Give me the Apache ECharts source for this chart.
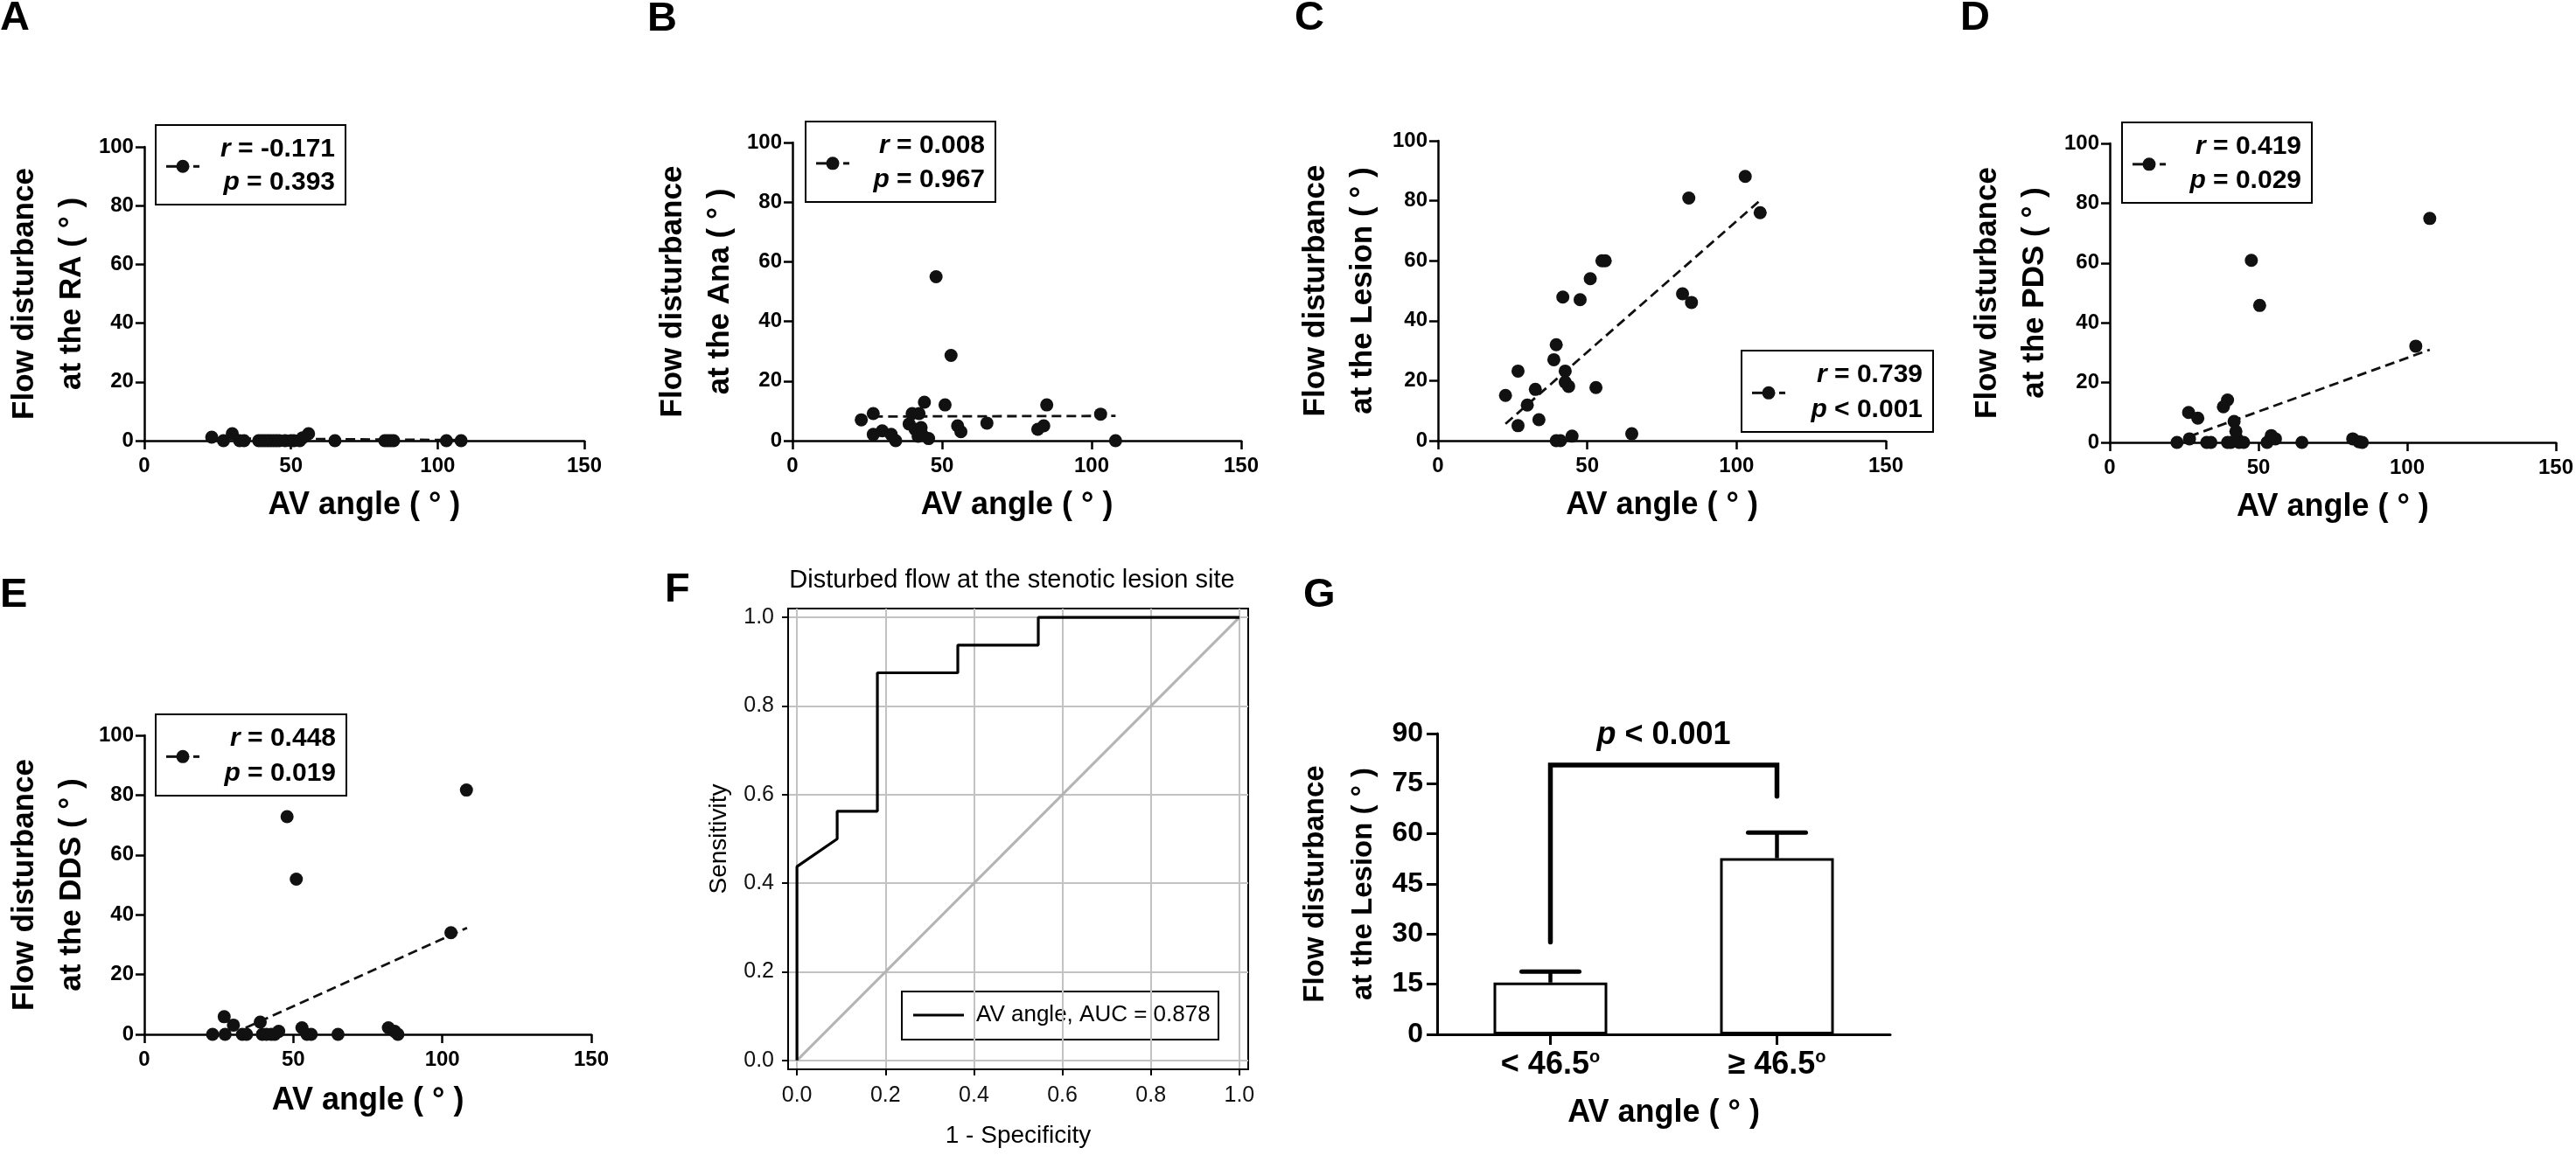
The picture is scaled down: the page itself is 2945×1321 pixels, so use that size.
<!DOCTYPE html>
<html><head><meta charset="utf-8">
<script src="https://cdn.jsdelivr.net/npm/echarts@6/dist/echarts.min.js"></script>
<style>html,body{margin:0;padding:0;background:#fff}#c{width:2945px;height:1321px}</style>
</head><body><div id="c"></div>
<script>
const FONT = '"Liberation Sans", Arial, Helvetica, sans-serif';

// ---- data ----
const ptsA = [[23,1.2],[27,0],[30,2.4],[32.5,0],[34,0],[39,0],[40,0],[41,0],[42,0],[43,0],[44,0],[45,0],[46,0],[48,0],[50,0],[51,0],[53,0],[54,1],[56,2.4],[65,0],[82,0],[83,0],[84,0],[85,0],[103,0],[108,0]];
const regA = [[23,0.8],[108,0.2]];
const ptsB = [[23,7],[27,9.1],[27,2.1],[30,3.3],[33,2.1],[34.5,0],[39,5.6],[40,9.1],[41,3.8],[42,1.5],[42.3,9.1],[43,4.4],[43.3,2.1],[44.1,12.9],[45.5,0.7],[48,55],[51,12],[53,28.6],[55.2,5],[56.3,3],[65,5.9],[82,3.8],[84,5],[85,12],[103,8.9],[108,0]];
const regB = [[27,8.1],[108,8.3]];
const ptsC = [[22.6,15.1],[26.8,23.2],[26.8,5],[29.9,11.9],[32.6,17.1],[33.8,7],[38.8,27],[39.6,32],[39.6,0],[41,0],[41.8,47.9],[42.6,23.2],[42.6,19.5],[43.75,18.1],[44.9,1.5],[47.6,47],[51,54],[52.9,17.7],[54.9,60],[56,60],[64.9,2.3],[81.9,49],[84,80.9],[84.9,46.1],[102.9,88.1],[107.9,76]];
const regC = [[22.6,5.6],[108.1,80.3]];
const ptsD = [[22.6,0],[26.5,10],[26.8,1.2],[29.6,8.1],[32.6,0],[34,0],[38.2,11.9],[39.6,14.2],[39.6,0],[40.7,0],[41.8,7],[42.4,3.7],[42.8,1.2],[43.5,0],[45,0],[47.6,60.9],[50.4,45.8],[52.9,0],[54.3,2.3],[55.7,1.2],[64.6,0],[81.7,1.2],[83.75,0.2],[84.9,0],[102.9,32.2],[107.6,74.9]];
const regD = [[26.8,2],[107.6,31]];
const ptsE = [[22.9,0],[26.8,5.9],[27.1,0],[29.9,3.1],[32.9,0],[34.3,0],[38.9,4.1],[39.6,0],[41,0],[42.6,0],[43.75,0],[45.1,1],[47.9,72.8],[51,51.9],[52.9,2.2],[54.6,0],[56,0],[65,0],[81.9,2.2],[84,1],[85.1,0],[102.9,34],[108.1,81.7]];
const regE = [[34,2.2],[108.3,35.6]];
const statsR = ['-0.171','0.008','0.739','0.419','0.448'];
const statsP = ['= 0.393','= 0.967','< 0.001','= 0.029','= 0.019'];
const sites = ['RA','Ana','Lesion','PDS','DDS'];

const rocX = [0,0,0.0909,0.0909,0.1818,0.1818,0.3636,0.3636,0.5455,0.5455,1];
const rocY = [0,0.4375,0.5,0.5625,0.5625,0.875,0.875,0.9375,0.9375,1,1];
const rocTicks = [0,0.2,0.4,0.6,0.8,1.0];
const aucText = 'AV angle, AUC = 0.878';

const groups = ['< 46.5', '\u2265 46.5'];
const groupMean = [15.5, 52.7];
const groupErrTop = [18.8, 60.4];
const bracketVals = [27.6, 80.6, 71.2]; // left foot, top, right foot

// ---- layout ----
const gridPos = [
  {left:164, top:168, width:504, height:336},
  {left:906, top:163, width:513, height:341},
  {left:1644, top:161, width:512, height:343},
  {left:2412, top:164, width:513, height:342},
  {left:164, top:841, width:512, height:342},
  {left:901, top:696, width:526, height:527, show:true, borderColor:'#000', borderWidth:2, backgroundColor:'#fff'},
  {left:1643, top:839, width:518, height:344}
];
const yGap = [54,54,59,59,56];
const xGap = [56,56,56,56,58];

const blackLine = w => ({color:'#000', width:w});
const boldLbl = s => ({fontSize:s, fontWeight:'bold', color:'#000', fontFamily:FONT});

const xAxes = [], yAxes = [], series = [];
[ptsA,ptsB,ptsC,ptsD,ptsE].forEach((pts,i)=>{
  xAxes.push({gridIndex:i, type:'value', min:0, max:150, interval:50,
    name:'AV angle ( \u00B0 )', nameLocation:'middle', nameGap:xGap[i], nameTextStyle:boldLbl(36),
    axisLine:{show:true, onZero:false, lineStyle:blackLine(2.5)},
    axisTick:{show:true, length:10, lineStyle:blackLine(2.5)},
    axisLabel:Object.assign({margin:17}, boldLbl(24)), splitLine:{show:false}});
  yAxes.push({gridIndex:i, type:'value', min:0, max:100, interval:20,
    name:'Flow disturbance\nat the '+sites[i]+' ( \u00B0 )', nameLocation:'middle', nameRotate:90, nameGap:yGap[i],
    nameTextStyle:Object.assign({lineHeight:54}, boldLbl(35)),
    axisLine:{show:true, lineStyle:blackLine(2.5)},
    axisTick:{show:true, length:10, lineStyle:blackLine(2.5)},
    axisLabel:Object.assign({margin:12}, boldLbl(24)), splitLine:{show:false}});
  const reg = [regA,regB,regC,regD,regE][i];
  series.push({type:'line', xAxisIndex:i, yAxisIndex:i, data:reg, symbol:'none', z:3,
    lineStyle:{color:'#111', width:2.8, type:[11,6]}, silent:true});
  series.push({type:'scatter', xAxisIndex:i, yAxisIndex:i, data:pts, symbol:'circle', symbolSize:15,
    itemStyle:{color:'#111', opacity:1}, z:4});
});

// F (ROC)
xAxes.push({gridIndex:5, type:'value', min:-0.02, max:1.02,
  name:'1 - Specificity', nameLocation:'middle', nameGap:62,
  nameTextStyle:{fontSize:28, color:'#000', fontFamily:FONT},
  axisLine:{show:true, onZero:false, lineStyle:blackLine(2)},
  axisTick:{show:true, length:7, customValues:rocTicks, lineStyle:blackLine(2)},
  axisLabel:{customValues:rocTicks, formatter:v=>v.toFixed(1), fontSize:25, color:'#111', margin:18, fontFamily:FONT},
  splitLine:{show:true, lineStyle:{color:'#c2c2c2', width:2}}});
yAxes.push({gridIndex:5, type:'value', min:-0.02, max:1.02,
  name:'Sensitivity', nameLocation:'middle', nameRotate:90, nameGap:65,
  nameTextStyle:{fontSize:28, color:'#000', fontFamily:FONT},
  axisLine:{show:true, onZero:false, lineStyle:blackLine(2)},
  axisTick:{show:true, length:7, customValues:rocTicks, lineStyle:blackLine(2)},
  axisLabel:{customValues:rocTicks, formatter:v=>v.toFixed(1), fontSize:25, color:'#111', margin:16, fontFamily:FONT},
  splitLine:{show:true, lineStyle:{color:'#c2c2c2', width:2}}});
series.push({type:'line', xAxisIndex:5, yAxisIndex:5, data:[[0,0],[1,1]], symbol:'none',
  lineStyle:{color:'#b4b4b4', width:3}, z:2, silent:true});
series.push({type:'line', xAxisIndex:5, yAxisIndex:5, data:rocX.map((x,k)=>[x,rocY[k]]), symbol:'none',
  lineStyle:{color:'#000', width:3.2}, z:3, silent:true});

// G (bars)
xAxes.push({gridIndex:6, type:'category', data:groups,
  name:'AV angle ( \u00B0 )', nameLocation:'middle', nameGap:72, nameTextStyle:boldLbl(36),
  axisLine:{show:true, lineStyle:blackLine(3)},
  axisTick:{show:true, alignWithLabel:true, length:12, lineStyle:blackLine(3)},
  axisLabel:{margin:16, fontSize:36, fontWeight:'bold', color:'#000', fontFamily:FONT,
    formatter:v=>v+'{s|o}',
    rich:{s:{fontSize:20, fontWeight:'bold', color:'#000', fontFamily:FONT, verticalAlign:'top', lineHeight:38}}}});
yAxes.push({gridIndex:6, type:'value', min:0, max:90, interval:15,
  name:'Flow disturbance\nat the Lesion ( \u00B0 )', nameLocation:'middle', nameRotate:90, nameGap:57,
  nameTextStyle:Object.assign({lineHeight:55}, boldLbl(33)),
  axisLine:{show:true, lineStyle:blackLine(3)},
  axisTick:{show:true, length:12, lineStyle:blackLine(3)},
  axisLabel:Object.assign({margin:16}, boldLbl(32)), splitLine:{show:false}});
series.push({type:'bar', xAxisIndex:6, yAxisIndex:6, data:groupMean, barWidth:130,
  itemStyle:{color:'#fff', borderColor:'#000', borderWidth:3}, z:2});
series.push({type:'custom', xAxisIndex:6, yAxisIndex:6, z:3,
  data:groupMean.map((m,k)=>[k,m,groupErrTop[k]]),
  encode:{x:0, y:[1,2]},
  renderItem:(params, api)=>{
    const c = api.value(0);
    const p1 = api.coord([c, api.value(1)]), p2 = api.coord([c, api.value(2)]);
    const hw = 33;
    return {type:'group', children:[
      {type:'line', shape:{x1:p1[0], y1:p1[1], x2:p2[0], y2:p2[1]}, style:{stroke:'#000', lineWidth:4.5}},
      {type:'line', shape:{x1:p2[0]-hw, y1:p2[1], x2:p2[0]+hw, y2:p2[1]}, style:{stroke:'#000', lineWidth:5, lineCap:'round'}}
    ]};
  }});
series.push({type:'line', xAxisIndex:6, yAxisIndex:6, symbol:'none', z:4, silent:true,
  data:[[groups[0],bracketVals[0]],[groups[0],bracketVals[1]],[groups[1],bracketVals[1]],[groups[1],bracketVals[2]]],
  lineStyle:{color:'#000', width:5.5, cap:'round', join:'miter'}});

// ---- decorations: panel letters, legends, titles ----
const graphics = [];
const letters = [['A',0,21],['B',740,22],['C',1480,21],['D',2241,21],['E',0,681],['F',760,675],['G',1490,681]];
letters.forEach(l=>graphics.push({type:'text', x:l[1], y:l[2], z:20,
  style:{text:l[0], fontSize:47, fontWeight:'bold', fontFamily:FONT, fill:'#000', align:'left', verticalAlign:'middle'}}));

const legendBoxes = [[178,143,217,91],[921,139,217,92],[1991,401,219,93],[2426,140,217,92],[178,817,218,93]];
const richIt = {i:{fontStyle:'italic', fontWeight:'bold', fontSize:30, fontFamily:FONT, fill:'#000'}};
legendBoxes.forEach((b,i)=>{
  const [x,y,w,h] = b;
  const iy = y + h*0.52;
  graphics.push({type:'group', z:20, children:[
    {type:'rect', shape:{x:x, y:y, width:w, height:h}, style:{fill:'#fff', stroke:'#000', lineWidth:2}},
    {type:'line', shape:{x1:x+12, y1:iy, x2:x+38, y2:iy}, style:{stroke:'#111', lineWidth:3}},
    {type:'line', shape:{x1:x+43, y1:iy, x2:x+50, y2:iy}, style:{stroke:'#111', lineWidth:3}},
    {type:'circle', shape:{cx:x+31, cy:iy, r:7.5}, style:{fill:'#111'}},
    {type:'text', x:x+w-12, y:y+h*0.30, style:{text:'{i|r} = '+statsR[i], rich:richIt, fontSize:30, fontWeight:'bold', fontFamily:FONT, fill:'#000', align:'right', verticalAlign:'middle'}},
    {type:'text', x:x+w-12, y:y+h*0.725, style:{text:'{i|p} '+statsP[i], rich:richIt, fontSize:30, fontWeight:'bold', fontFamily:FONT, fill:'#000', align:'right', verticalAlign:'middle'}}
  ]});
});

// F title and legend
graphics.push({type:'text', x:1157, y:664, z:20, style:{text:'Disturbed flow at the stenotic lesion site', fontSize:29, fontFamily:FONT, fill:'#000', align:'center', verticalAlign:'middle'}});
graphics.push({type:'group', z:20, children:[
  {type:'rect', shape:{x:1031, y:1134, width:362, height:55}, style:{fill:'#fff', stroke:'#000', lineWidth:2}},
  {type:'line', shape:{x1:1044, y1:1161, x2:1102, y2:1161}, style:{stroke:'#000', lineWidth:3}},
  {type:'text', x:1116, y:1161, style:{text:aucText, fontSize:26, fontFamily:FONT, fill:'#000', align:'left', verticalAlign:'middle'}}
]});
// G significance text
graphics.push({type:'text', x:1902, y:841, z:20, style:{text:'{i|p} < 0.001', rich:{i:{fontStyle:'italic', fontWeight:'bold', fontSize:36, fontFamily:FONT, fill:'#000'}}, fontSize:36, fontWeight:'bold', fontFamily:FONT, fill:'#000', align:'center', verticalAlign:'middle'}});

const chart = echarts.init(document.getElementById('c'));
chart.setOption({
  animation:false,
  backgroundColor:'#fff',
  grid:gridPos,
  xAxis:xAxes,
  yAxis:yAxes,
  series:series,
  graphic:graphics
});
</script></body></html>
